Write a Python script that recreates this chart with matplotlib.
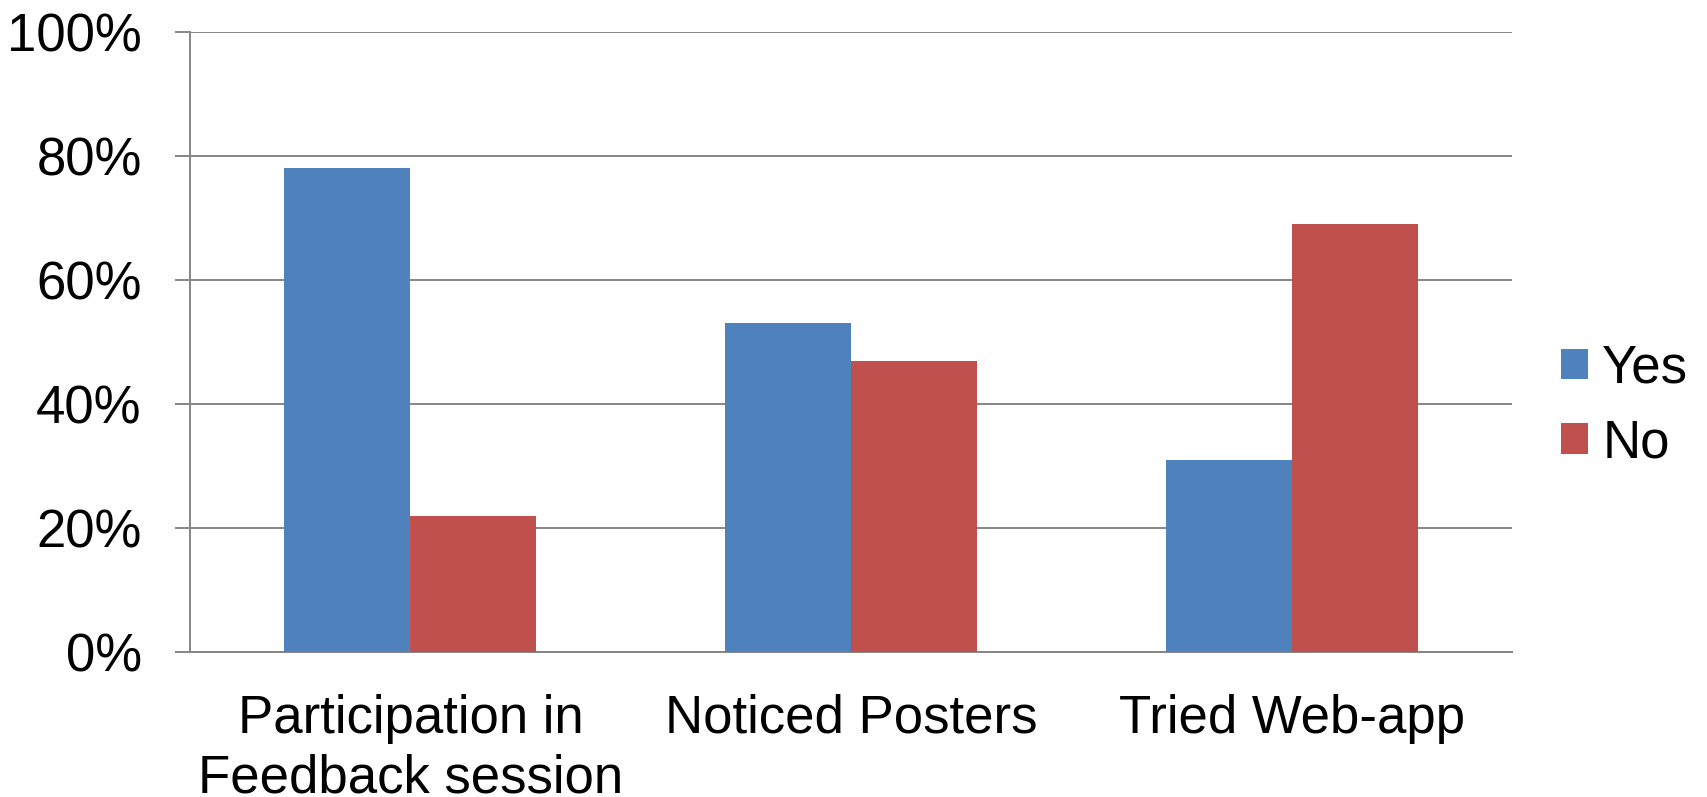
import numpy as np
import matplotlib.pyplot as plt
from matplotlib.ticker import PercentFormatter

plt.rcParams['font.family'] = ['Liberation Sans', 'DejaVu Sans']

# Data
categories = ["Participation in\nFeedback session", "Noticed Posters", "Tried Web-app"]
yes_vals = [78, 53, 31]
no_vals = [22, 47, 69]
series_names = ["Yes", "No"]
y_ticks = [0, 20, 40, 60, 80, 100]

blue = "#4F81BD"
red = "#C0504D"
grid_gray = "#868686"

fig = plt.figure(figsize=(17.07, 7.97), dpi=100)
ax = fig.add_axes([0.1113, 0.1819, 0.7745, 0.7779])

x = np.arange(len(categories))
w = 0.286
ax.bar(x - w / 2, yes_vals, width=w, color=blue, label=series_names[0], zorder=3)
ax.bar(x + w / 2, no_vals, width=w, color=red, label=series_names[1], zorder=3)

ax.set_xlim(-0.5, len(categories) - 0.5)
ax.set_ylim(0, 100)
ax.set_yticks(y_ticks)
ax.yaxis.set_major_formatter(PercentFormatter(decimals=0))
ax.set_xticks(x)
ax.set_xticklabels(categories, linespacing=1.26)

ax.yaxis.grid(True, color=grid_gray, linewidth=1.4, zorder=0)
ax.set_axisbelow(True)

for side in ["top", "right"]:
    ax.spines[side].set_visible(False)
ax.spines["left"].set_color(grid_gray)
ax.spines["left"].set_linewidth(1.4)
ax.spines["bottom"].set_color(grid_gray)
ax.spines["bottom"].set_linewidth(1.4)

ax.tick_params(axis="y", direction="out", length=10.8, width=1.4, color=grid_gray,
               pad=24, labelsize=38)
ax.tick_params(axis="x", length=0, pad=30, labelsize=38)

fig.legend(loc="center left", bbox_to_anchor=(0.9145, 0.4906), frameon=False,
           fontsize=38, handlelength=0.51, handleheight=0.51, handletextpad=0.27,
           labelspacing=0.47, borderpad=0, borderaxespad=0)

fig.savefig("out.png", dpi=100)
